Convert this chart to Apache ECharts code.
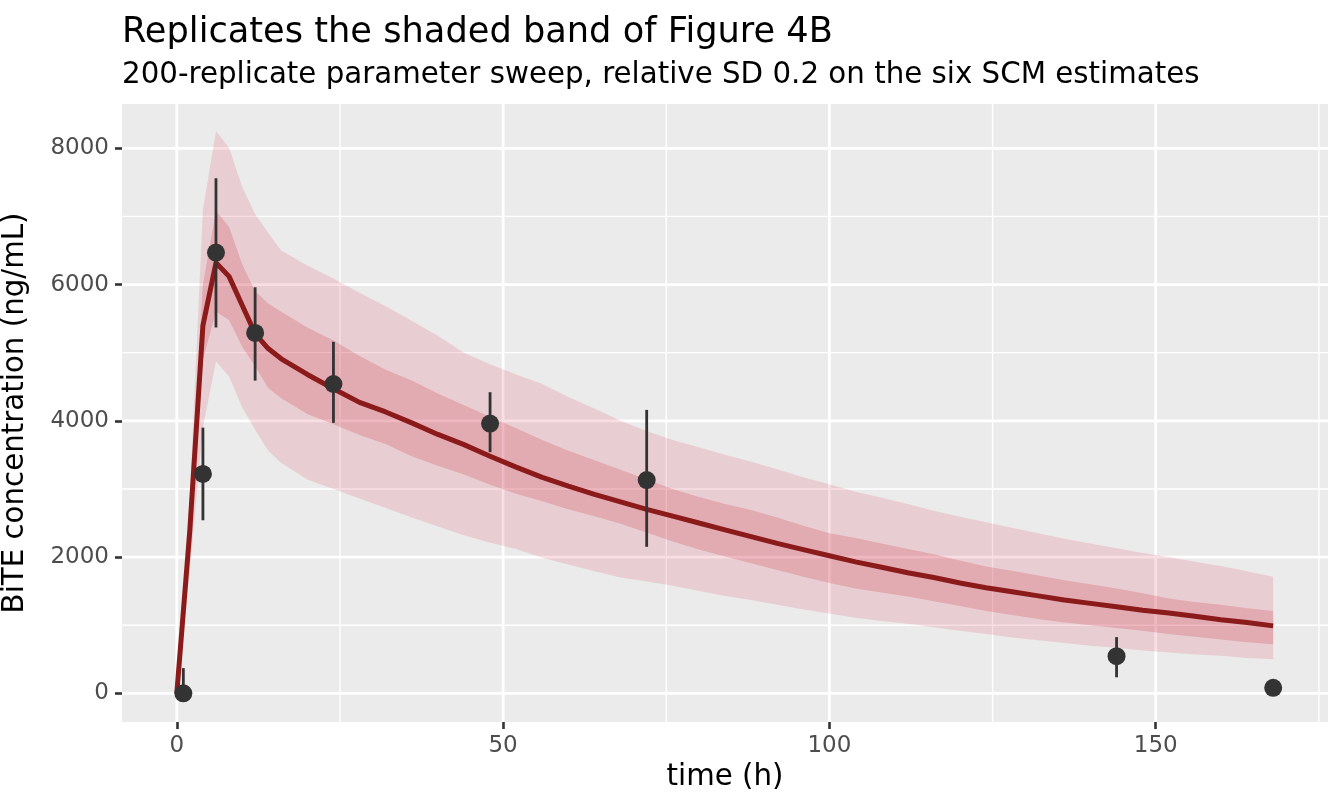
<!DOCTYPE html>
<html>
<head>
<meta charset="utf-8">
<script src="https://cdn.jsdelivr.net/npm/echarts@6/dist/echarts.min.js"></script>
<style>
  html, body { margin: 0; padding: 0; background: #fff; }
  #chart { width: 1344px; height: 806px; }
</style>
</head>
<body>
<div id="chart"></div>
<script>
// simulation grid (h) and 200-replicate summaries (ng/mL)
var simTime = [0, 2, 4, 6, 8, 10, 12, 14, 16, 20, 24, 28, 32, 36, 40, 44, 48, 52, 56, 60, 64, 68, 72, 76, 80, 84, 88, 92, 96, 100, 104, 108, 112, 116, 120, 124, 128, 132, 136, 140, 144, 148, 152, 156, 160, 164, 168];
var median = [0, 2400, 5400, 6320, 6120, 5700, 5280, 5060, 4910, 4680, 4470, 4270, 4130, 3970, 3800, 3650, 3480, 3320, 3170, 3040, 2920, 2810, 2700, 2600, 2500, 2400, 2300, 2200, 2110, 2020, 1930, 1850, 1770, 1700, 1620, 1550, 1490, 1430, 1370, 1320, 1270, 1220, 1180, 1130, 1080, 1040, 990];
var lo95 = [0, 1800, 3900, 4870, 4650, 4200, 3870, 3560, 3380, 3140, 3000, 2860, 2720, 2580, 2450, 2320, 2210, 2120, 1990, 1890, 1790, 1700, 1640, 1580, 1500, 1430, 1370, 1300, 1230, 1170, 1110, 1060, 1020, 970, 920, 870, 820, 780, 740, 700, 670, 630, 600, 570, 550, 520, 500];
var hi95 = [0, 2900, 7100, 8250, 8010, 7440, 7030, 6760, 6500, 6280, 6090, 5880, 5680, 5470, 5250, 5000, 4830, 4680, 4540, 4350, 4180, 4000, 3850, 3720, 3610, 3500, 3400, 3290, 3170, 3070, 2960, 2870, 2780, 2680, 2590, 2510, 2430, 2350, 2270, 2200, 2130, 2060, 2000, 1930, 1870, 1790, 1710];
var lo75 = [0, 2150, 4900, 5600, 5480, 5090, 4800, 4480, 4330, 4100, 3950, 3790, 3660, 3480, 3340, 3210, 3060, 2930, 2820, 2700, 2600, 2490, 2360, 2230, 2110, 2010, 1910, 1810, 1710, 1620, 1540, 1480, 1420, 1350, 1280, 1210, 1150, 1090, 1040, 1000, 960, 920, 870, 830, 790, 750, 720];
var hi75 = [0, 2650, 6000, 7080, 6850, 6300, 5900, 5720, 5600, 5370, 5180, 4950, 4750, 4590, 4400, 4230, 4060, 3890, 3720, 3560, 3420, 3280, 3140, 3000, 2880, 2780, 2690, 2580, 2460, 2350, 2280, 2200, 2120, 2040, 1950, 1860, 1800, 1730, 1660, 1600, 1540, 1470, 1390, 1340, 1300, 1250, 1210];

// observed data: mean with lower / upper bar ends
var obsTime = [1, 4, 6, 12, 24, 48, 72, 144, 168];
var obsMean = [0, 3220, 6470, 5290, 4540, 3960, 3130, 545, 80];
var obsLow = [0, 2540, 5370, 4590, 3970, 3540, 2150, 235, 45];
var obsHigh = [370, 3900, 7560, 5960, 5160, 4420, 4160, 825, 115];

// axis ticks and grid lines
var xTicks = [0, 50, 100, 150];
var xMinor = [25, 75, 125, 175];
var yTicks = [0, 2000, 4000, 6000, 8000];
var yMinor = [1000, 3000, 5000, 7000];

var X_MIN = -8.4, X_MAX = 176.4;
var Y_MIN = -421, Y_MAX = 8650;
var FONT = 'DejaVu Sans';

function pairs(xs, ys) {
  return xs.map(function (x, i) { return [x, ys[i]]; });
}

var gridData = [];
xTicks.forEach(function (v) { gridData.push([v, 0, 0, 1]); });
xMinor.forEach(function (v) { gridData.push([v, 0, 0, 0]); });
yTicks.forEach(function (v) { gridData.push([0, v, 1, 1]); });
yMinor.forEach(function (v) { gridData.push([0, v, 1, 0]); });

// ribbon between two curves, drawn once as a single polygon
function ribbon(lower, upper, fill, z) {
  return {
    type: 'custom', z: z, silent: true,
    data: pairs(simTime, upper),
    renderItem: function (params, api) {
      if (params.dataIndex !== 0) return null;
      var pts = [];
      for (var i = 0; i < simTime.length; i++) pts.push(api.coord([simTime[i], upper[i]]));
      for (var j = simTime.length - 1; j >= 0; j--) pts.push(api.coord([simTime[j], lower[j]]));
      return { type: 'polygon', shape: { points: pts }, style: { fill: fill } };
    }
  };
}

var chart = echarts.init(document.getElementById('chart'));

var option = {
  backgroundColor: '#ffffff',
  animation: false,
  textStyle: { fontFamily: FONT },
  title: [{
    text: 'Replicates the shaded band of Figure 4B',
    left: 122, top: 15, padding: 0,
    textStyle: { fontFamily: FONT, fontSize: 35.2, fontWeight: 'normal', color: '#000' }
  }, {
    text: '200-replicate parameter sweep, relative SD 0.2 on the six SCM estimates',
    left: 122, top: 61, padding: 0,
    textStyle: { fontFamily: FONT, fontSize: 29.3, fontWeight: 'normal', color: '#000' }
  }],
  grid: {
    left: 122, right: 16, top: 104, bottom: 84,
    containLabel: false, outerBoundsMode: 'none',
    show: true, backgroundColor: '#EBEBEB', borderWidth: 0
  },
  xAxis: {
    type: 'value',
    min: X_MIN, max: X_MAX,
    name: 'time (h)',
    nameLocation: 'middle',
    nameGap: 38,
    nameTextStyle: { fontFamily: FONT, fontSize: 29.3, color: '#000' },
    axisLine: { show: false, onZero: false },
    axisTick: { show: true, length: 7, customValues: xTicks, lineStyle: { color: '#333333', width: 2.6 } },
    axisLabel: {
      customValues: xTicks, margin: 13, fontFamily: FONT, fontSize: 23, color: '#4D4D4D',
      formatter: function (v) { return String(v); }
    },
    splitLine: { show: false }
  },
  yAxis: {
    type: 'value',
    min: Y_MIN, max: Y_MAX,
    name: 'BiTE concentration (ng/mL)',
    nameLocation: 'middle',
    nameGap: 92,
    nameTextStyle: { fontFamily: FONT, fontSize: 29.3, color: '#000' },
    axisLine: { show: false, onZero: false },
    axisTick: { show: true, length: 7, customValues: yTicks, lineStyle: { color: '#333333', width: 2.6 } },
    axisLabel: {
      customValues: yTicks, margin: 13, fontFamily: FONT, fontSize: 23, color: '#4D4D4D',
      formatter: function (v) { return String(v); }
    },
    splitLine: { show: false }
  },
  series: [
    // panel grid lines
    {
      type: 'custom',
      z: 1,
      silent: true,
      data: gridData,
      renderItem: function (params, api) {
        var horiz = api.value(2) === 1;
        var major = api.value(3) === 1;
        var p1, p2;
        if (horiz) {
          p1 = api.coord([X_MIN, api.value(1)]);
          p2 = api.coord([X_MAX, api.value(1)]);
        } else {
          p1 = api.coord([api.value(0), Y_MIN]);
          p2 = api.coord([api.value(0), Y_MAX]);
        }
        return {
          type: 'line',
          shape: { x1: p1[0], y1: p1[1], x2: p2[0], y2: p2[1] },
          style: { stroke: '#FFFFFF', lineWidth: major ? 2.8 : 1.4 }
        };
      }
    },
    // outer band (95%) and inner band (50%)
    ribbon(lo95, hi95, 'rgba(220, 80, 100, 0.18)', 2),
    ribbon(lo75, hi75, 'rgba(205, 40, 55, 0.21)', 3),
    // median
    {
      type: 'line', z: 4, silent: true,
      data: pairs(simTime, median),
      symbol: 'none',
      lineStyle: { color: '#8B1A1A', width: 5, join: 'round' }
    },
    // observed error bars
    {
      type: 'custom', z: 5, silent: true,
      data: obsTime.map(function (t, i) { return [t, obsLow[i], obsHigh[i]]; }),
      renderItem: function (params, api) {
        var a = api.coord([api.value(0), api.value(1)]);
        var b = api.coord([api.value(0), api.value(2)]);
        return {
          type: 'line',
          shape: { x1: a[0], y1: a[1], x2: b[0], y2: b[1] },
          style: { stroke: '#333333', lineWidth: 2.8 }
        };
      }
    },
    // observed points
    {
      type: 'scatter', z: 6, silent: true,
      data: pairs(obsTime, obsMean),
      symbol: 'circle', symbolSize: 18,
      itemStyle: { color: '#333333', opacity: 1 }
    }
  ]
};

chart.setOption(option);
</script>
</body>
</html>
